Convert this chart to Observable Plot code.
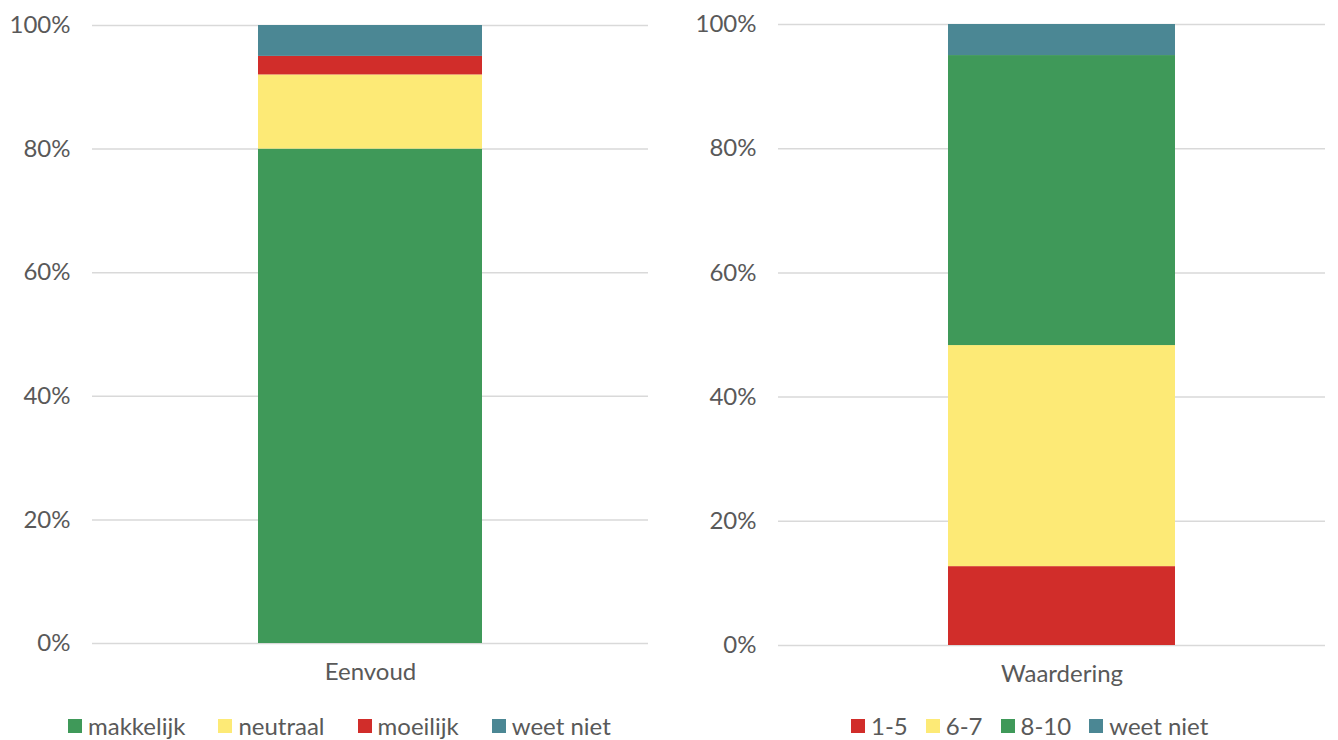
<!DOCTYPE html>
<html>
<head>
<meta charset="utf-8">
<script src="https://cdn.jsdelivr.net/npm/d3@7"></script>
<script src="https://cdn.jsdelivr.net/npm/@observablehq/plot@0.6"></script>
<style>
  body { margin: 0; background: #fff; font-family: Lato, "Open Sans", sans-serif; }
  #wrap { position: relative; width: 1338px; height: 740px; overflow: hidden; }
  .panel { position: absolute; top: 0; }
  .legend { position: absolute; top: 711px; display: flex; align-items: center; font-size: 24px; color: #595959; white-space: nowrap; }
  .legend .item { display: flex; align-items: center; }
  .legend .sw { width: 14px; height: 14px; margin-right: 6px; }
</style>
</head>
<body>
<div id="wrap">
  <div id="left" class="panel" style="left:0px"></div>
  <div id="right" class="panel" style="left:669px"></div>
  <div id="legL" class="legend" style="left:68px"></div>
  <div id="legR" class="legend" style="left:851px"></div>
</div>
<script>
// ---- data ----
const leftGroup = "Eenvoud";
const leftCategories = ["makkelijk", "neutraal", "moeilijk", "weet niet"];
const leftValues = [0.80, 0.12, 0.03, 0.05];

const rightGroup = "Waardering";
const rightCategories = ["1-5", "6-7", "8-10", "weet niet"];
const rightValues = [0.127, 0.356, 0.467, 0.05];

const yTicks = [0, 0.2, 0.4, 0.6, 0.8, 1.0];

const leftColors = ["#3f9959", "#fdea76", "#d12d2a", "#4b8794"];
const rightColors = ["#d12d2a", "#fdea76", "#3f9959", "#4b8794"];

function makePanel({group, cats, vals, colors, mLeft, mRight, mTop, mBottom, align, padding}) {
  const rows = cats.map((c, i) => ({group, cat: c, value: vals[i]}));
  return Plot.plot({
    width: 669,
    height: 700,
    marginLeft: mLeft,
    marginRight: mRight,
    marginTop: mTop,
    marginBottom: mBottom,
    style: {fontFamily: "Lato, 'Open Sans', sans-serif", fontSize: "24px", color: "#595959", background: "white", overflow: "visible"},
    x: {domain: [group], padding, align, label: null, tickSize: 0},
    y: {domain: [0, 1], ticks: yTicks, tickFormat: d3.format(".0%"), label: null, tickSize: 0},
    color: {domain: cats, range: colors},
    marks: [
      Plot.gridY(yTicks, {stroke: "#d9d9d9", strokeOpacity: 1, strokeWidth: 1.5}),
      Plot.barY(rows, {x: "group", y: "value", fill: "cat", order: cats}),
      Plot.axisY({ticks: yTicks, tickFormat: d3.format(".0%"), tickSize: 0, tickPadding: 22, fill: "#595959", label: null}),
      Plot.axisX({tickSize: 0, tickPadding: 19, fill: "#595959", label: null})
    ]
  });
}

document.getElementById("left").appendChild(makePanel({
  group: leftGroup, cats: leftCategories, vals: leftValues, colors: leftColors,
  mLeft: 92, mRight: 21, mTop: 25, mBottom: 57, align: 0.5, padding: 0.4255
}));
document.getElementById("right").appendChild(makePanel({
  group: rightGroup, cats: rightCategories, vals: rightValues, colors: rightColors,
  mLeft: 109, mRight: 13, mTop: 24, mBottom: 55, align: 0.531, padding: 0.413
}));

function legend(el, cats, colors, gaps) {
  const node = document.getElementById(el);
  cats.forEach((c, i) => {
    const it = document.createElement("div");
    it.className = "item";
    if (i > 0) it.style.marginLeft = gaps + "px";
    const sw = document.createElement("div");
    sw.className = "sw";
    sw.style.background = colors[i];
    const t = document.createElement("span");
    t.textContent = c;
    it.appendChild(sw); it.appendChild(t);
    node.appendChild(it);
  });
}
legend("legL", leftCategories, leftColors, 33);
legend("legR", rightCategories, rightColors, 18);
</script>
</body>
</html>
